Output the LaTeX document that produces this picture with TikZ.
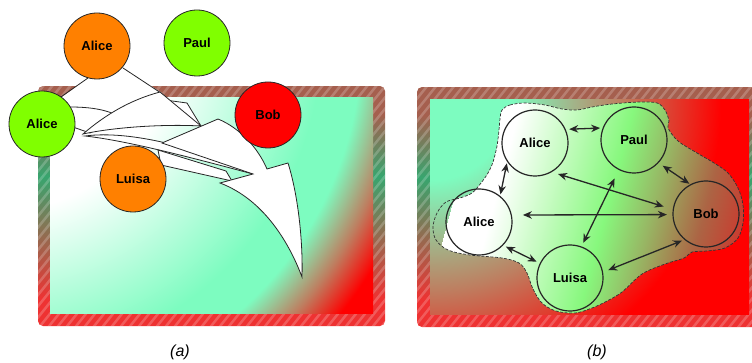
\documentclass[tikz,border=0pt]{standalone}
\usepackage{fontspec}
\setmainfont{Liberation Sans}
\usetikzlibrary{arrows.meta}
\definecolor{mint}{RGB}{125,252,192}
\definecolor{cOrange}{RGB}{255,128,0}
\definecolor{cGreen}{RGB}{128,255,0}
\definecolor{cRed}{RGB}{255,0,0}
\definecolor{bandBrown}{RGB}{165,95,78}
\definecolor{bandGreen}{RGB}{55,165,110}
\definecolor{bandRed}{RGB}{238,50,50}
\definecolor{blobGreen}{RGB}{135,248,125}
\definecolor{blobBrown}{RGB}{172,100,68}
\definecolor{blobRed}{RGB}{205,55,45}
\colorlet{mintRed}{mint!50!red}
\colorlet{bandMid}{bandRed!55!bandGreen}
\colorlet{blobMid}{blobGreen!55!blobBrown}
\pgfdeclareradialshading{shA}{\pgfpoint{0bp}{0bp}}{color(0bp)=(white); color(170bp)=(white); color(320bp)=(mint); color(360bp)=(mint); color(400bp)=(mintRed); color(435bp)=(red); color(480bp)=(red)}
\pgfdeclareradialshading{shB}{\pgfpoint{0bp}{0bp}}{color(0bp)=(mint); color(80bp)=(mint); color(190bp)=(mintRed); color(290bp)=(red); color(480bp)=(red)}
\pgfdeclarehorizontalshading{shBlob}{600bp}{color(0bp)=(white); color(40bp)=(white); color(150bp)=(blobGreen); color(195bp)=(blobMid); color(245bp)=(blobBrown); color(290bp)=(blobRed); color(600bp)=(blobRed)}
\pgfdeclareverticalshading{shBand}{380bp}{color(0bp)=(bandRed); color(28bp)=(bandRed); color(85bp)=(bandMid); color(150bp)=(bandGreen); color(212bp)=(bandBrown); color(241bp)=(bandBrown)}
\tikzset{
  person/.style={circle, draw=black!85, line width=0.8pt, minimum size=66pt, inner sep=0pt,
    font=\fontsize{13}{15}\selectfont\bfseries},
  personB/.style={person, line width=1.2pt},
  sketch/.style={draw=black!85, fill=white, line width=0.8pt, line join=miter},
  sketchline/.style={draw=black!85, line width=0.8pt},
  biarr/.style={{Stealth[length=9pt,width=7.5pt]}-{Stealth[length=9pt,width=7.5pt]}, line width=1.3pt, draw=black!85},
  blobline/.style={draw=black!80, line width=0.7pt, dash pattern=on 3pt off 1.6pt},
  stripe/.style={white, opacity=0.2, line width=2.5pt},
  capstyle/.style={font=\fontsize{16}{18}\selectfont\itshape}
}
\begin{document}
\begin{tikzpicture}[x=1pt,y=-1pt]
\useasboundingbox (0,0) rectangle (752,363);
\begin{scope}
\clip (0,0) rectangle (752,363);
% ---------- panel (a) frame ----------
\begin{scope}
  \clip[rounded corners=5pt] (38,86) rectangle (385,326);
  \node[inner sep=0pt, outer sep=0pt] (bandA) at (211,206) {\pgfuseshading{shBand}};
  \foreach \i in {-260,-251,...,400} \draw[stripe] (\i,330) -- ++(200,-250);
\end{scope}
\begin{scope}
  \clip (50,98) rectangle (373,313);
  \node[inner sep=0pt, outer sep=0pt] (shadeA) at (0,40) {\pgfuseshading{shA}};
\end{scope}
% ---------- panel (b) frame ----------
\begin{scope}
  \clip[rounded corners=5pt] (417,87) rectangle (762,327);
  \node[inner sep=0pt, outer sep=0pt] (bandB) at (590,207) {\pgfuseshading{shBand}};
  \foreach \i in {160,169,...,800} \draw[stripe] (\i,330) -- ++(200,-250);
\end{scope}
\begin{scope}
  \clip (430,100) rectangle (749,314);
  \node[inner sep=0pt, outer sep=0pt] (shadeB) at (430,100) {\pgfuseshading{shB}};
\end{scope}
% ---------- blob ----------
\begin{scope}
  \clip plot[smooth cycle, tension=0.55] coordinates {(502,110) (510,105) (525,103) (545,105) (562,109) (577,110) (592,107) (612,104) (640,102) (657,103) (665,110) (669,121) (668,128) (678,141) (697,153) (714,163) (728,173) (738,188) (743,205) (743,223) (738,238) (725,248) (707,251) (692,252) (684,258) (665,264) (642,274) (622,292) (607,301) (592,308) (575,313) (556,311) (542,303) (533,289) (527,273) (519,263) (502,258) (470,255) (448,250) (436,240) (433,227) (437,213) (446,202) (460,198) (472,193) (481,183) (488,173) (493,162) (497,146) (499,130) (500,119)};
  \node[rotate=-15, inner sep=0pt, outer sep=0pt] (shadeBlob) at (760,218) {\pgfuseshading{shBlob}};
\end{scope}
\draw[blobline] plot[smooth cycle, tension=0.55] coordinates {(502,110) (510,105) (525,103) (545,105) (562,109) (577,110) (592,107) (612,104) (640,102) (657,103) (665,110) (669,121) (668,128) (678,141) (697,153) (714,163) (728,173) (738,188) (743,205) (743,223) (738,238) (725,248) (707,251) (692,252) (684,258) (665,264) (642,274) (622,292) (607,301) (592,308) (575,313) (556,311) (542,303) (533,289) (527,273) (519,263) (502,258) (470,255) (448,250) (436,240) (433,227) (437,213) (446,202) (460,198) (472,193) (481,183) (488,173) (493,162) (497,146) (499,130) (500,119)};
% ---------- sketchy arrows of panel (a) ----------
\fill[white] (88,78) -- (123,68) -- (162,93) -- (120,120) -- (83,135) -- (58,100) -- cycle;
\draw[sketchline] (88,78) -- (58,99);
\draw[sketchline] (123,68) -- (161,93);
\filldraw[sketch] (70,107) .. controls (92,107) and (108,110) .. (120,117) -- (90,133) -- (70,126) -- cycle;
\filldraw[sketch] (165,100) -- (187,103) -- (201,126) -- (170,120) -- cycle;
\filldraw[sketch] (83,134) .. controls (105,115) and (130,100) .. (160,92) -- (201,126) .. controls (165,124) and (115,127) .. (83,134) -- cycle;
\filldraw[sketch] (85,136) .. controls (130,130) and (200,148) .. (253,174) .. controls (200,160) and (130,141) .. (85,136) -- cycle;
\filldraw[sketch] (158,150) -- (226,171) -- (232,181) -- (161,165) -- cycle;
\filldraw[sketch] (162,143) -- (218,119) .. controls (240,128) and (258,148) .. (267,169) -- (288,163) .. controls (298,195) and (303,240) .. (302,277) .. controls (290,245) and (265,200) .. (220,183) -- (253,174) -- cycle;
% ---------- nodes of panel (a) ----------
\node[person, fill=cOrange] (aAlice1) at (97,46) {Alice};
\node[person, fill=cGreen] (aPaul) at (197,43) {Paul};
\node[person, fill=cGreen] (aAlice2) at (42,124) {Alice};
\node[person, fill=cRed] (aBob) at (268,115) {Bob};
\node[person, fill=cOrange] (aLuisa) at (133,179) {Luisa};
% ---------- nodes of panel (b) ----------
\node[personB] (bAlice1) at (535,143) {Alice};
\node[personB] (bPaul) at (634,140) {Paul};
\node[personB] (bAlice2) at (479,222) {Alice};
\node[personB] (bBob) at (706,214) {Bob};
\node[personB] (bLuisa) at (570,278) {Luisa};
\draw[biarr, shorten <=3.5pt, shorten >=2.5pt] (bAlice1.24) -- (bPaul.159);
\draw[biarr, shorten <=1.5pt, shorten >=1.5pt] (bAlice1.214) -- (bAlice2.51);
\draw[biarr, shorten <=6.5pt, shorten >=9.5pt] (bAlice1.300) -- (bBob.172);
\draw[biarr, shorten <=11pt, shorten >=5.5pt] (bAlice2.12) -- (bBob.181);
\draw[biarr, shorten <=3pt, shorten >=3.5pt] (bAlice2.316) -- (bLuisa.154);
\draw[biarr, shorten <=9.5pt, shorten >=4pt] (bPaul.243) -- (bLuisa.70);
\draw[biarr, shorten <=5pt, shorten >=1pt] (bPaul.317) -- (bBob.118);
\draw[biarr, shorten <=5.5pt, shorten >=2.5pt] (bLuisa.10) -- (bBob.230);
% ---------- captions ----------
\node[capstyle] (capA) at (180,352) {(a)};
\node[capstyle] (capB) at (597,352) {(b)};
\end{scope}
\end{tikzpicture}
\end{document}
